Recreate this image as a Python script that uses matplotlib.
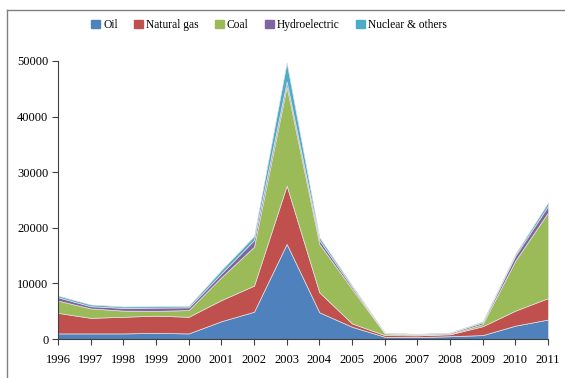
import numpy as np
import matplotlib
matplotlib.use('Agg')
import matplotlib.pyplot as plt
from matplotlib.lines import Line2D

# --- данные ---
years = list(range(1996, 2012))
oil = [1000, 1000, 1000, 1100, 1000, 3200, 4900, 17100, 4800, 2200, 400, 350, 500, 700, 2400, 3500]
natural_gas = [3700, 2800, 3000, 3100, 3000, 3800, 4700, 10500, 3600, 600, 300, 300, 350, 1600, 2700, 3850]
coal = [2200, 1700, 1100, 850, 1200, 4100, 7000, 17800, 8700, 6200, 300, 120, 50, 400, 9000, 15400]
hydroelectric = [600, 400, 500, 600, 500, 700, 1200, 900, 700, 400, 80, 100, 200, 300, 900, 1200]
nuclear_others = [300, 300, 250, 250, 250, 600, 700, 3400, 500, 250, 60, 60, 60, 170, 300, 600]

labels = ['Oil', 'Natural gas', 'Coal', 'Hydroelectric', 'Nuclear & others']
colors = ['#4F81BD', '#C0504D', '#9BBB59', '#8064A2', '#4BACC6']

plt.rcParams['font.family'] = ['Liberation Serif', 'DejaVu Serif']
plt.rcParams['font.size'] = 9

fig = plt.figure(figsize=(5.65, 3.78), dpi=100)
ax = fig.add_axes([58 / 565, 1 - 339 / 378, (548 - 58) / 565, (339 - 61) / 378])

ax.stackplot(years, oil, natural_gas, coal, hydroelectric, nuclear_others,
             colors=colors, labels=labels, linewidth=0.5, edgecolor='#e0e0e0')

ax.set_xlim(1996, 2011)
ax.set_ylim(0, 50000)
ax.set_xticks(years)
ax.set_yticks(range(0, 50001, 10000))
ax.spines['top'].set_visible(False)
ax.spines['right'].set_visible(False)
for s in ('left', 'bottom'):
    ax.spines[s].set_color('#404040')
    ax.spines[s].set_linewidth(0.8)
ax.tick_params(axis='x', direction='out', length=4, width=0.8, color='#404040', pad=7)
ax.tick_params(axis='y', direction='out', length=4, width=0.8, color='#404040', pad=3)

# легенда сверху
fig.legend(handles=[plt.Rectangle((0, 0), 1, 1, color=c) for c in colors], labels=labels,
           loc='center', bbox_to_anchor=(269 / 565, 1 - 25 / 378), ncol=5, frameon=False,
           handlelength=0.75, handleheight=0.75, handletextpad=0.3, columnspacing=1.4,
           fontsize=8.3)

# рамка области диаграммы (обрезанная)
fig.add_artist(Line2D([7 / 565, 1], [1 - 10 / 378, 1 - 10 / 378], color='#808080', lw=1.0,
                      transform=fig.transFigure))
fig.add_artist(Line2D([7 / 565, 7 / 565], [0, 1 - 10 / 378], color='#808080', lw=1.0,
                      transform=fig.transFigure))

fig.savefig('out.png', dpi=100)
